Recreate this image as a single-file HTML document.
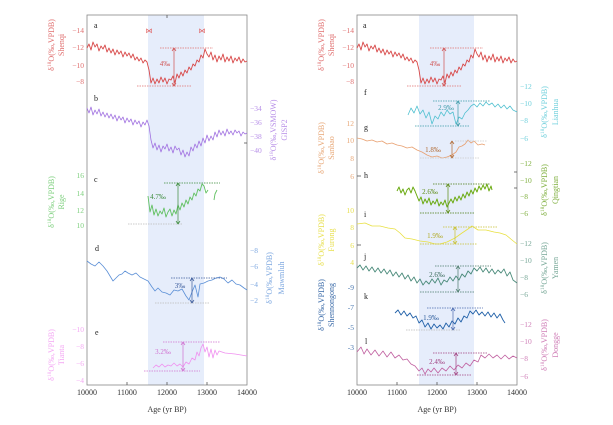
<!DOCTYPE html>
<html><head><meta charset="utf-8"><style>
html,body{margin:0;padding:0;background:#fff;}
svg{display:block;font-family:"Liberation Serif",serif;}
</style></head><body>
<svg width="613" height="425" viewBox="0 0 613 425" xmlns="http://www.w3.org/2000/svg">
<rect x="148" y="15" width="56" height="370" fill="#e6edfb"/>
<rect x="419" y="15" width="55" height="370" fill="#e6edfb"/>
<rect x="87" y="15" width="160" height="370" fill="none" stroke="#888" stroke-width="0.8"/>
<rect x="357" y="15" width="160" height="370" fill="none" stroke="#888" stroke-width="0.8"/>
<g stroke="#555" stroke-width="0.8">
<line x1="127" y1="385" x2="127" y2="382"/><line x1="167" y1="385" x2="167" y2="382"/><line x1="207" y1="385" x2="207" y2="382"/>
<line x1="397" y1="385" x2="397" y2="382"/><line x1="437" y1="385" x2="437" y2="382"/><line x1="477" y1="385" x2="477" y2="382"/>
<line x1="167" y1="15" x2="167" y2="18"/><line x1="247" y1="143" x2="244" y2="143"/>
<line x1="517" y1="172" x2="514" y2="172"/><line x1="517" y1="188" x2="514" y2="188"/>
<line x1="357" y1="176" x2="361" y2="176"/><line x1="357" y1="245" x2="361" y2="245"/>
</g>

<g fill="none" stroke-linejoin="round">
<g id="shenqi">
<path stroke="#d84848" stroke-width="0.9" d="M87 48L89 44L91 50L93 42L95 47L97 44L99 51L101 46L103 49L105 45L107 52L109 48L111 53L113 49L115 55L117 50L119 54L121 51L123 57L125 52L127 56L129 53L131 58L133 54L135 60L137 57L139 61L141 58L143 63L145 60L147 62L149 70L151 83L153 78L155 84L157 79L159 83L161 77L163 82L165 78L167 84L169 79L171 80L173 76L175 83L177 74L179 78L181 72L183 76L185 70L187 73L189 67L191 70L193 64L195 66L197 60L199 62L201 55L203 58L205 49L207 54L209 57L211 52L213 60L215 55L217 62L219 56L221 60L223 54L225 62L227 57L229 61L231 56L233 63L235 58L237 61L239 57L241 63L243 59L245 62L247 61"/>
<path stroke="#e07070" stroke-width="0.7" stroke-dasharray="1.5,1" d="M160 48H213M137 86H192"/>
<path stroke="#d05050" stroke-width="0.7" d="M174 48V86M172 51L174 48L176 51M172 83L174 86L176 83"/>
</g>
<use href="#shenqi" transform="translate(270,0)"/>

<path stroke="#a070e0" stroke-width="0.8" d="M87 108L89 113L91 107L93 115L95 110L97 114L99 109L101 116L103 112L105 117L107 113L109 118L111 114L113 119L115 115L117 121L119 116L121 120L123 117L125 123L127 118L129 122L131 119L133 125L135 120L137 124L139 121L141 127L143 122L145 125L147 120L149 126L151 140L153 148L155 143L157 150L159 145L161 152L163 146L165 149L167 144L169 151L171 147L173 153L175 146L177 150L179 148L181 155L183 150L185 157L187 152L189 156L191 147L193 151L195 144L197 148L199 141L201 146L203 138L205 143L207 135L209 141L211 136L213 140L215 132L217 137L219 130L221 135L223 131L225 136L227 129L229 134L231 131L233 135L235 130L237 133L239 131L241 136L243 132L245 134L247 133"/>

<path stroke="#60c060" stroke-width="0.9" d="M148 196L150 212L152 205L154 215L156 209L158 216L160 211L162 214L164 208L166 217L168 212L170 209L172 216L174 210L176 214L178 205L180 210L182 203L184 207L186 200L188 204L190 197L192 200L194 193L196 196L198 189L200 191L202 184L204 186L206 193L208 190M214 200L215 194L217 190"/>
<path stroke-width="0.7" stroke-dasharray="1.5,1" stroke="#3a8a3a" d="M164 183H220"/>
<path stroke-width="0.7" stroke-dasharray="1.5,1" stroke="#bbb" d="M128 224H183"/>
<path stroke="#3a8a3a" stroke-width="0.7" d="M178 183V224M176 186L178 183L180 186M176 221L178 224L180 221"/>

<path stroke="#5b8fd6" stroke-width="0.8" d="M87 261L91 264L95 266L99 262L103 266L107 271L110 276L113 281L116 278L119 275L122 274L125 271L128 273L132 275L136 273L140 277L144 279L148 281L152 287L155 291L158 288L162 292L166 293L170 295L174 290L178 291L182 289L186 296L189 300L192 292L195 285L198 297L200 284L204 283L208 281L212 280L216 278L220 277L224 279L228 283L232 280L236 284L240 285L244 288L247 290"/>
<path stroke-width="0.7" stroke-dasharray="1.5,1" stroke="#3a5a9a" d="M171 278H227"/>
<path stroke-width="0.7" stroke-dasharray="1.5,1" stroke="#bbb" d="M155 303H210"/>
<path stroke="#3a5a9a" stroke-width="0.7" d="M192 278V303M190 281L192 278L194 281M190 300L192 303L194 300"/>

<path stroke="#f090f0" stroke-width="0.8" d="M153 368L156 365L159 367L162 364L165 367L168 365L171 366L174 363L177 366L180 364L183 367L186 362L189 364L192 358L195 360L197 352L199 356L201 348L203 344L205 352L207 347L209 357L211 349L213 358L215 350L217 355L219 351L225 353L235 354L247 356"/>
<path stroke-width="0.7" stroke-dasharray="1.5,1" stroke="#d070d0" d="M163 342H220M144 371H200"/>
<path stroke="#d070d0" stroke-width="0.7" d="M183 342V371M181 345L183 342L185 345M181 368L183 371L185 368"/>

<path stroke="#50c0d0" stroke-width="0.8" d="M408 115L411 108L414 113L417 106L420 114L423 110L426 118L429 112L432 124L435 116L438 119L441 112L444 116L447 110L450 114L453 112L456 124L459 117L462 119L465 113L468 110L471 106L474 104L477 107L480 103L483 106L486 102L489 105L492 103L495 107L498 104L501 108L504 105L507 109L510 106L513 110L517 112"/>
<path stroke-width="0.7" stroke-dasharray="1.5,1" stroke="#3a9aa8" d="M433 101H490M415 126H470"/>
<path stroke="#3a9aa8" stroke-width="0.7" d="M458 101V126M456 104L458 101L460 104M456 123L458 126L460 123"/>

<path stroke="#e8a070" stroke-width="0.8" d="M357 138L362 139L367 141L372 140L377 142L382 141L387 144L392 143L397 145L402 146L407 148L412 147L417 150L422 152L427 155L432 157L437 156L442 158L447 157L452 155L456 152L459 147L462 146L465 144L468 140L471 143L474 141L478 145L482 144L485 145"/>
<path stroke-width="0.7" stroke-dasharray="1.5,1" stroke="#ccc" d="M455 141H487M420 158H480"/>
<path stroke="#b06830" stroke-width="0.7" d="M452 141V158M450 144L452 141L454 144M450 155L452 158L454 155"/>

<path stroke="#6aaa10" stroke-width="1" d="M397 191L399 187L401 193L403 189L405 195L407 190L409 188L411 193L413 187L415 191L417 196L419 201L421 197L423 204L425 199L427 203L429 198L431 205L433 201L435 204L437 199L439 206L441 202L443 205L445 200L447 207L449 203L451 199L453 203L455 197L457 201L459 196L461 200L463 194L465 198L467 192L469 196L471 190L473 194L475 188L477 192L479 186L481 190L483 185L485 189L487 184L489 191L491 186L492 190"/>
<path stroke-width="0.7" stroke-dasharray="1.5,1" stroke="#4a7a10" d="M433 184H490M420 213H475"/>
<path stroke="#5a8a10" stroke-width="0.7" d="M448 184V213M446 187L448 184L450 187M446 210L448 213L450 210"/>

<path stroke="#e8e040" stroke-width="0.8" d="M357 224L365 223L372 226L380 226L388 228L395 229L400 233L405 238L412 239L420 241L428 242L435 244L440 244L447 242L455 238L462 233L468 229L472 226L478 230L486 230L494 232L500 233L506 235L512 240L517 244"/>
<path stroke-width="0.7" stroke-dasharray="1.5,1" stroke="#c8c030" d="M443 227H498M420 244H477"/>
<path stroke="#c8c030" stroke-width="0.7" d="M455 227V244M453 230L455 227L457 230M453 241L455 244L457 241"/>

<path stroke="#4a8a7a" stroke-width="0.9" d="M357 268L360 265L363 270L366 266L369 271L372 267L375 272L378 268L381 273L384 269L387 274L390 270L393 276L396 272L399 277L402 273L405 279L408 275L411 281L414 277L417 283L420 279L423 285L426 281L429 284L432 279L435 283L438 278L441 285L444 280L447 282L450 277L453 281L456 276L459 280L462 274L465 277L468 271L471 274L474 268L477 271L480 267L483 272L486 268L489 273L492 269L495 274L498 270L501 273L504 269L507 276L510 272L513 280L517 283"/>
<path stroke-width="0.7" stroke-dasharray="1.5,1" stroke="#4a7a6a" d="M435 266H491M420 292H475"/>
<path stroke="#4a7a6a" stroke-width="0.7" d="M458 266V292M456 269L458 266L460 269M456 289L458 292L460 289"/>

<path stroke="#2060a8" stroke-width="0.9" d="M395 313L398 310L401 315L404 311L407 316L410 313L413 318L416 316L419 323L422 320L425 327L428 323L431 329L434 324L437 328L440 325L443 329L446 323L449 327L452 321L455 324L458 318L461 322L464 316L467 318L470 311L473 314L476 310L479 315L482 312L485 316L488 312L491 317L494 313L497 318L500 314L503 320L505 323"/>
<path stroke-width="0.7" stroke-dasharray="1.5,1" stroke="#4a6ab0" d="M427 308H483"/>
<path stroke-width="0.7" stroke-dasharray="1.5,1" stroke="#bbb" d="M406 330H460"/>
<path stroke="#4a6ab0" stroke-width="0.7" d="M453 308V330M451 311L453 308L455 311M451 327L453 330L455 327"/>

<path stroke="#c060a0" stroke-width="0.8" d="M357 352L361 347L364 354L367 349L371 355L375 350L379 356L383 351L387 357L391 352L395 358L399 355L403 360L407 359L411 364L415 366L419 371L422 368L425 374L428 369L431 372L434 368L438 373L442 368L446 371L450 366L454 370L458 365L462 368L466 363L470 366L474 360L478 362L481 355L485 358L489 354L493 358L497 355L501 359L505 355L509 359L513 356L517 358"/>
<path stroke-width="0.7" stroke-dasharray="1.5,1" stroke="#a04080" d="M433 353H488M417 375H472"/>
<path stroke="#a04080" stroke-width="0.7" d="M456 353V375M454 356L456 353L458 356M454 372L456 375L458 372"/>
</g>

<g font-size="8" fill="#333" text-anchor="middle">
<text x="87" y="395">10000</text><text x="127" y="395">11000</text><text x="167" y="395">12000</text><text x="207" y="395">13000</text><text x="247" y="395">14000</text>
<text x="167" y="412">Age (yr BP)</text>
<text x="357" y="395">10000</text><text x="397" y="395">11000</text><text x="437" y="395">12000</text><text x="477" y="395">13000</text><text x="517" y="395">14000</text>
<text x="437" y="412">Age (yr BP)</text>
</g>
<g font-size="8" fill="#222">
<text x="94" y="28">a</text><text x="94" y="101">b</text><text x="94" y="182">c</text><text x="95" y="251">d</text><text x="95" y="335">e</text>
<text x="363" y="28">a</text><text x="364" y="95">f</text><text x="364" y="130">g</text><text x="364" y="178">h</text><text x="364" y="217">i</text><text x="364" y="259">j</text><text x="364" y="299">k</text><text x="365" y="344">l</text>
</g>
<g font-size="7.5" text-anchor="end">
<g fill="#e07070"><text x="84" y="33">−14</text><text x="84" y="50">−12</text><text x="84" y="68">−10</text><text x="84" y="84">−8</text>
<text x="354" y="33">−14</text><text x="354" y="50">−12</text><text x="354" y="68">−10</text><text x="354" y="84">−8</text></g>
<g fill="#7fd07f"><text x="84" y="178">16</text><text x="84" y="196">14</text><text x="84" y="213">12</text><text x="84" y="228">10</text></g>
<g fill="#f4a8f4"><text x="84" y="332">−10</text><text x="84" y="349">−8</text><text x="84" y="366">−6</text><text x="84" y="383">−4</text></g>
<g fill="#e8a878"><text x="354" y="126">12</text><text x="354" y="143">10</text><text x="354" y="161">8</text><text x="354" y="179">6</text></g>
<g fill="#e8e050"><text x="354" y="213">10</text><text x="354" y="230">8</text><text x="354" y="248">6</text><text x="354" y="265">4</text></g>
<g fill="#4a78b0"><text x="354" y="290">-9</text><text x="354" y="310">-7</text><text x="354" y="330">-5</text><text x="354" y="350">-3</text></g>
</g>
<g font-size="7.5" text-anchor="start">
<g fill="#b890e8"><text x="250" y="111">−34</text><text x="250" y="125">−36</text><text x="250" y="139">−38</text><text x="250" y="153">−40</text></g>
<g fill="#7ea8e0"><text x="250" y="253">−8</text><text x="250" y="269">−6</text><text x="250" y="287">−4</text><text x="250" y="303">−2</text></g>
<g fill="#70d0dc"><text x="520" y="89">−12</text><text x="520" y="106">−10</text><text x="520" y="123">−8</text><text x="520" y="141">−6</text></g>
<g fill="#80b040"><text x="520" y="166">−12</text><text x="520" y="183">−10</text><text x="520" y="199">−8</text><text x="520" y="216">−6</text></g>
<g fill="#78a898"><text x="520" y="246">−12</text><text x="520" y="263">−10</text><text x="520" y="280">−8</text><text x="520" y="297">−6</text></g>
<g fill="#d080b8"><text x="520" y="327">−12</text><text x="520" y="344">−10</text><text x="520" y="361">−8</text><text x="520" y="379">−6</text></g>
</g>
<g font-size="8" text-anchor="middle">
<g fill="#e07070"><text transform="translate(54,45) rotate(-90)">δ<tspan font-size="5.5" dy="-3">18</tspan><tspan dy="3">O(‰,VPDB)</tspan></text><text transform="translate(64,45) rotate(-90)">Shenqi</text>
<text transform="translate(324,45) rotate(-90)">δ<tspan font-size="5.5" dy="-3">18</tspan><tspan dy="3">O(‰,VPDB)</tspan></text><text transform="translate(334,45) rotate(-90)">Shenqi</text></g>
<g fill="#b890e8"><text transform="translate(276,130) rotate(-90)">δ<tspan font-size="5.5" dy="-3">18</tspan><tspan dy="3">O(‰,VSMOW)</tspan></text><text transform="translate(287,130) rotate(-90)">GISP2</text></g>
<g fill="#7fd07f"><text transform="translate(54,202) rotate(-90)">δ<tspan font-size="5.5" dy="-3">18</tspan><tspan dy="3">O(‰,VPDB)</tspan></text><text transform="translate(64,202) rotate(-90)">Rige</text></g>
<g fill="#7ea8e0"><text transform="translate(272,278) rotate(-90)">δ<tspan font-size="5.5" dy="-3">18</tspan><tspan dy="3">O(‰,VPDB)</tspan></text><text transform="translate(284,278) rotate(-90)">Mawmluh</text></g>
<g fill="#f4a8f4"><text transform="translate(54,355) rotate(-90)">δ<tspan font-size="5.5" dy="-3">18</tspan><tspan dy="3">O(‰,VPDB)</tspan></text><text transform="translate(64,355) rotate(-90)">Tianta</text></g>
<g fill="#70d0dc"><text transform="translate(547,112) rotate(-90)">δ<tspan font-size="5.5" dy="-3">18</tspan><tspan dy="3">O(‰,VPDB)</tspan></text><text transform="translate(558,112) rotate(-90)">Lianhua</text></g>
<g fill="#e8a878"><text transform="translate(324,148) rotate(-90)">δ<tspan font-size="5.5" dy="-3">18</tspan><tspan dy="3">O(‰,VPDB)</tspan></text><text transform="translate(334,148) rotate(-90)">Sanbao</text></g>
<g fill="#80b040"><text transform="translate(547,190) rotate(-90)">δ<tspan font-size="5.5" dy="-3">18</tspan><tspan dy="3">O(‰,VPDB)</tspan></text><text transform="translate(558,190) rotate(-90)">Qingtian</text></g>
<g fill="#e8e050"><text transform="translate(324,240) rotate(-90)">δ<tspan font-size="5.5" dy="-3">18</tspan><tspan dy="3">O(‰,VPDB)</tspan></text><text transform="translate(334,240) rotate(-90)">Furong</text></g>
<g fill="#78a898"><text transform="translate(547,268) rotate(-90)">δ<tspan font-size="5.5" dy="-3">18</tspan><tspan dy="3">O(‰,VPDB)</tspan></text><text transform="translate(558,268) rotate(-90)">Yamen</text></g>
<g fill="#3a6aa8"><text transform="translate(324,305) rotate(-90)">δ<tspan font-size="5.5" dy="-3">18</tspan><tspan dy="3">O(‰,VPDB)</tspan></text><text transform="translate(334,305) rotate(-90)">Shennongong</text></g>
<g fill="#d080b8"><text transform="translate(547,345) rotate(-90)">δ<tspan font-size="5.5" dy="-3">18</tspan><tspan dy="3">O(‰,VPDB)</tspan></text><text transform="translate(558,345) rotate(-90)">Dongge</text></g>
</g>
<g font-size="7" fill="#e06060" text-anchor="middle"><text x="149" y="33">⋈</text><text x="202" y="33">⋈</text></g>
<g font-size="7" text-anchor="middle">
<text x="165" y="66" fill="#d05050">4‰</text><text x="435" y="66" fill="#d05050">4‰</text>
<text x="158" y="199" fill="#3a8a3a">4.7‰</text>
<text x="180" y="288" fill="#3a5a9a">3‰</text>
<text x="163" y="354" fill="#d070d0">3.2‰</text>
<text x="446" y="110" fill="#3a9aa8">2.9‰</text>
<text x="433" y="152" fill="#b06830">1.8‰</text>
<text x="430" y="194" fill="#5a8a10">2.6‰</text>
<text x="435" y="238" fill="#b0a820">1.9‰</text>
<text x="437" y="277" fill="#3a6a5a">2.6‰</text>
<text x="431" y="320" fill="#2a5a9a">1.9‰</text>
<text x="437" y="364" fill="#a04080">2.4‰</text>
</g>
</svg>
</body></html>
